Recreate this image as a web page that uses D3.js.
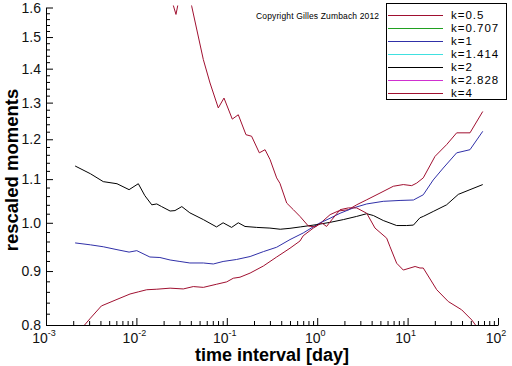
<!DOCTYPE html>
<html>
<head>
<meta charset="utf-8">
<script src="https://cdn.jsdelivr.net/npm/d3@7"></script>
<style>
body { margin: 0; background: #fff; }
svg { display: block; font-family: "Liberation Sans", Arial, sans-serif; }
</style>
</head>
<body>
<svg width="512" height="366"></svg>
<script>
// legend entries
const legendLabels = ['k=0.5', 'k=0.707', 'k=1', 'k=1.414', 'k=2', 'k=2.828', 'k=4'];
const legendColors = ['#a01030', '#20a020', '#3030a8', '#40e0e0', '#000000', '#d030d0', '#a01030'];

// [time interval (day), rescaled moment]
const k05 = [
  [0.0021, 0.781], [0.0031, 0.812], [0.0041, 0.834], [0.0061, 0.846], [0.0085, 0.856],
  [0.0105, 0.860], [0.013, 0.864], [0.0168, 0.865], [0.0236, 0.867], [0.033, 0.8655],
  [0.0426, 0.870], [0.055, 0.8685], [0.0773, 0.8745], [0.0998, 0.879], [0.118, 0.886],
  [0.14, 0.888], [0.181, 0.896], [0.254, 0.910], [0.356, 0.928], [0.50, 0.946],
  [0.645, 0.961], [0.70, 0.972], [0.906, 0.9885], [1.07, 0.998], [1.39, 1.018],
  [1.71, 1.026], [2.21, 1.029], [2.73, 1.040], [3.53, 1.0515], [4.95, 1.067],
  [6.95, 1.083], [8.96, 1.087], [11.1, 1.0845], [12.6, 1.0905], [14.9, 1.103],
  [20.1, 1.156], [27.0, 1.186], [34.9, 1.217], [49.0, 1.217], [67.8, 1.275]
];
const k1 = [
  [0.0021, 0.957], [0.0031, 0.953], [0.0043, 0.949], [0.0061, 0.943], [0.0083, 0.938],
  [0.0101, 0.941], [0.0141, 0.928], [0.0182, 0.927], [0.0236, 0.922], [0.0303, 0.919],
  [0.039, 0.916], [0.055, 0.916], [0.071, 0.914], [0.091, 0.919], [0.128, 0.923],
  [0.181, 0.929], [0.254, 0.939], [0.356, 0.948], [0.50, 0.964], [0.70, 0.978],
  [1.03, 0.998], [1.39, 1.010], [1.79, 1.021], [2.51, 1.033], [3.53, 1.042],
  [5.38, 1.048], [8.25, 1.050], [11.6, 1.051], [13.7, 1.059], [14.9, 1.063],
  [19.2, 1.098], [24.8, 1.127], [34.9, 1.165], [49.0, 1.173], [67.8, 1.221]
];
const k2 = [
  [0.0021, 1.132], [0.0031, 1.113], [0.0043, 1.094], [0.0061, 1.089], [0.0083, 1.075],
  [0.0105, 1.089], [0.0124, 1.061], [0.0148, 1.040], [0.0168, 1.042], [0.019, 1.036],
  [0.0236, 1.026], [0.0267, 1.027], [0.0318, 1.036], [0.039, 1.022], [0.055, 1.007],
  [0.077, 0.991], [0.091, 1.000], [0.113, 0.990], [0.134, 1.000], [0.159, 0.992],
  [0.214, 0.990], [0.30, 0.9885], [0.39, 0.986], [0.50, 0.988], [0.65, 0.991],
  [0.99, 0.996], [1.39, 1.001], [1.95, 1.007], [2.73, 1.014], [3.53, 1.020],
  [4.18, 1.016], [5.38, 1.005], [7.57, 0.994], [9.77, 0.994], [11.6, 0.995],
  [13.7, 1.011], [14.9, 1.014], [19.2, 1.025], [27.0, 1.040], [36.4, 1.064],
  [49.0, 1.075], [67.8, 1.087]
];
const k4 = [
  [0.0236, 1.646], [0.0274, 1.576], [0.0311, 1.664], [0.0363, 1.682], [0.0409, 1.6045],
  [0.055, 1.428], [0.0652, 1.357], [0.0805, 1.285], [0.0931, 1.313], [0.115, 1.254],
  [0.134, 1.266], [0.163, 1.212], [0.188, 1.208], [0.229, 1.165], [0.265, 1.173],
  [0.301, 1.148], [0.356, 1.103], [0.387, 1.090], [0.46, 1.044], [0.545, 1.029],
  [0.645, 1.014], [0.798, 0.993], [0.946, 0.991], [1.12, 1.000], [1.27, 0.992],
  [1.45, 1.0066], [1.79, 1.029], [2.21, 1.033], [2.73, 1.033], [3.53, 1.021],
  [4.36, 0.9885], [5.87, 0.967], [6.39, 0.949], [7.57, 0.9155], [8.96, 0.902],
  [12.1, 0.909], [13.7, 0.906], [14.9, 0.906], [21.0, 0.864], [28.2, 0.842],
  [39.6, 0.827], [51.2, 0.809], [67.8, 0.783]
];

const xTickExps = [-3, -2, -1, 0, 1, 2];
const yTicks = [0.8, 0.9, 1.0, 1.1, 1.2, 1.3, 1.4, 1.5, 1.6];

const svg = d3.select('svg');
const plotLeft = 46, plotRight = 498, plotTop = 7.5, plotBottom = 325;

svg.append('rect').attr('width', 512).attr('height', 366).attr('fill', '#fff');

const xScale = d3.scaleLog().domain([1e-3, 1e2]).range([plotLeft, plotRight]);
const yScale = d3.scaleLog().domain([0.8, 1.6]).range([plotBottom, plotTop]);

const xMinor = [];
for (let e = -3; e < 2; e++) for (let m = 2; m <= 9; m++) xMinor.push(m * Math.pow(10, e));
const yMinor = d3.range(0.82, 1.6, 0.02).map(v => +v.toFixed(2))
    .filter(v => Math.abs(v * 10 - Math.round(v * 10)) > 1e-6);

// minor ticks
svg.append('g')
    .attr('transform', `translate(0,${plotBottom})`)
    .call(d3.axisBottom(xScale).tickValues(xMinor).tickSize(-4).tickFormat(''))
    .call(g => g.select('.domain').remove());
svg.append('g')
    .attr('transform', `translate(${plotLeft},0)`)
    .call(d3.axisLeft(yScale).tickValues(yMinor).tickSize(-4).tickFormat(''))
    .call(g => g.select('.domain').remove());

// major ticks and axis lines
svg.append('g')
    .attr('transform', `translate(0,${plotBottom})`)
    .call(d3.axisBottom(xScale).tickValues(xTickExps.map(e => Math.pow(10, e)))
        .tickSize(-7).tickSizeOuter(0).tickFormat(''));
svg.append('g')
    .attr('transform', `translate(${plotLeft},0)`)
    .call(d3.axisLeft(yScale).tickValues(yTicks).tickSize(-7).tickSizeOuter(0).tickFormat(''));
svg.selectAll('.domain, .tick line').attr('stroke', '#000').attr('stroke-width', 1);

// tick labels
const xLab = svg.append('g').selectAll('text').data(xTickExps).join('text')
    .attr('x', e => xScale(Math.pow(10, e)) - 2)
    .attr('y', 343)
    .attr('text-anchor', 'middle')
    .attr('font-size', 14)
    .attr('fill', '#111');
xLab.append('tspan').text('10');
xLab.append('tspan').attr('font-size', 9).attr('dy', -7)
    .text(e => (e < 0 ? '-' : '') + Math.abs(e));

svg.append('g').selectAll('text').data(yTicks).join('text')
    .attr('x', 41)
    .attr('y', d => yScale(d))
    .attr('dy', '0.36em')
    .attr('text-anchor', 'end')
    .attr('font-size', 14)
    .attr('fill', '#111')
    .text(d => d.toFixed(1));

// axis titles
svg.append('text')
    .attr('x', (plotLeft + plotRight) / 2)
    .attr('y', 361)
    .attr('text-anchor', 'middle')
    .attr('font-size', 18)
    .attr('font-weight', 'bold')
    .text('time interval [day]');
svg.append('text')
    .attr('transform', 'translate(18,170) rotate(-90)')
    .attr('text-anchor', 'middle')
    .attr('font-size', 18.5)
    .attr('font-weight', 'bold')
    .text('rescaled moments');

svg.append('text')
    .attr('x', 256)
    .attr('y', 19)
    .attr('font-size', 8.5)
    .attr('textLength', 123)
    .text('Copyright Gilles Zumbach 2012');

// curves
svg.append('clipPath').attr('id', 'plot-clip')
    .append('rect').attr('x', plotLeft).attr('y', plotTop - 2)
    .attr('width', plotRight - plotLeft + 2).attr('height', plotBottom - plotTop + 2);

const line = d3.line()
    .x(d => xScale(d[0]))
    .y(d => yScale(d[1]));

const series = [
    { data: k05, color: legendColors[0] },
    { data: k1, color: legendColors[2] },
    { data: k2, color: legendColors[4] },
    { data: k4, color: legendColors[6] }
];
svg.append('g').attr('clip-path', 'url(#plot-clip)')
    .selectAll('path').data(series).join('path')
    .attr('fill', 'none')
    .attr('stroke', d => d.color)
    .attr('stroke-width', 1)
    .attr('d', d => line(d.data));

// legend
const legend = svg.append('g');
legend.append('rect')
    .attr('x', 386.5).attr('y', 3.5).attr('width', 120).attr('height', 96)
    .attr('fill', '#fff').attr('stroke', '#000');
const rows = legend.selectAll('g.row').data(legendLabels).join('g')
    .attr('class', 'row')
    .attr('transform', (d, i) => `translate(0,${15 + i * 13})`);
rows.append('line')
    .attr('x1', 388).attr('x2', 443).attr('y1', 0.5).attr('y2', 0.5)
    .attr('stroke', (d, i) => legendColors[i]);
rows.append('text')
    .attr('x', 451).attr('dy', '0.36em')
    .attr('font-size', 11.5)
    .attr('letter-spacing', 1)
    .text(d => d);
</script>
</body>
</html>
